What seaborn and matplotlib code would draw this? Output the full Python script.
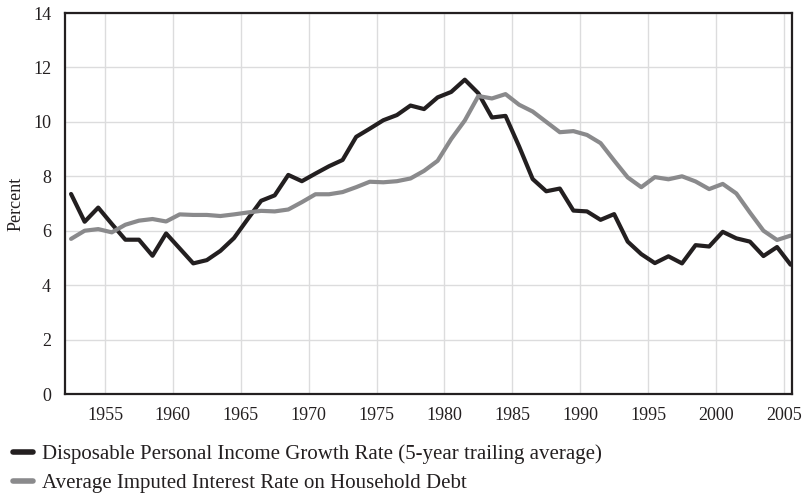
import numpy as np
import pandas as pd
import matplotlib
matplotlib.use('Agg')
import matplotlib.pyplot as plt
import seaborn as sns

years = list(range(1952, 2006))

income_growth = [7.35, 6.33, 6.85, 6.25, 5.67, 5.67, 5.08, 5.90, 5.35, 4.80,
                 4.92, 5.26, 5.73, 6.42, 7.10, 7.30, 8.05, 7.82, 8.10, 8.37,
                 8.60, 9.45, 9.75, 10.06, 10.25, 10.60, 10.47, 10.90, 11.10, 11.55,
                 11.05, 10.16, 10.22, 9.10, 7.90, 7.45, 7.55, 6.74, 6.71, 6.40,
                 6.61, 5.60, 5.14, 4.81, 5.06, 4.80, 5.47, 5.42, 5.96, 5.72,
                 5.60, 5.07, 5.40, 4.75]

interest_rate = [5.70, 6.00, 6.06, 5.94, 6.22, 6.37, 6.43, 6.34, 6.60, 6.58,
                 6.58, 6.54, 6.60, 6.67, 6.73, 6.71, 6.78, 7.05, 7.34, 7.34,
                 7.42, 7.60, 7.80, 7.78, 7.82, 7.92, 8.20, 8.57, 9.37, 10.05,
                 10.95, 10.86, 11.02, 10.63, 10.38, 10.00, 9.62, 9.66, 9.52, 9.22,
                 8.58, 7.96, 7.60, 7.97, 7.89, 8.00, 7.81, 7.53, 7.72, 7.37,
                 6.67, 6.00, 5.66, 5.82]

label_income = 'Disposable Personal Income Growth Rate (5-year trailing average)'
label_rate = 'Average Imputed Interest Rate on Household Debt'

# values are annual, drawn at mid-year
df = pd.DataFrame({
    'year': np.array(years + years) + 0.5,
    'value': income_growth + interest_rate,
    'series': [label_income] * len(years) + [label_rate] * len(years),
})

sns.set_style('white')
plt.rcParams['font.family'] = ['Liberation Serif', 'DejaVu Serif']

dark = '#231f20'
gray = '#8a8a8c'
fig = plt.figure(figsize=(8.02, 4.93), dpi=100)
ax = fig.add_axes([0.081, 0.2008, 0.9065, 0.7728])

sns.lineplot(data=df, x='year', y='value', hue='series',
             palette={label_income: dark, label_rate: gray},
             linewidth=3, ax=ax, legend=False)

ax.set_xlim(1952.05, 2005.6)
ax.set_ylim(0, 14)
ax.set_xticks(range(1955, 2006, 5))
ax.set_yticks(range(0, 15, 2))
ax.grid(True, color='#dcdcdd', linewidth=1)
ax.set_axisbelow(True)
for s in ax.spines.values():
    s.set_color(dark)
    s.set_linewidth(1.6)

ax.tick_params(axis='y', direction='in', length=10, width=1.5, color=dark,
               labelsize=13, pad=10, labelcolor=dark)
ax.tick_params(axis='x', direction='in', length=9, width=1.5, color=dark,
               labelsize=13, pad=9, labelcolor=dark)
ax.set_xlabel('')
ax.set_ylabel('Percent', fontsize=13, color=dark, labelpad=6)

handles = [plt.Line2D([], [], color=dark, lw=4),
           plt.Line2D([], [], color=gray, lw=4)]
fig.legend(handles, [label_income, label_rate], loc='lower left',
           bbox_to_anchor=(0.008, -0.013), frameon=False, fontsize=15,
           handlelength=1.0, handletextpad=0.4, labelspacing=0.45,
           labelcolor=dark, borderaxespad=0.1, borderpad=0.2)

fig.savefig('out.png', dpi=100)
